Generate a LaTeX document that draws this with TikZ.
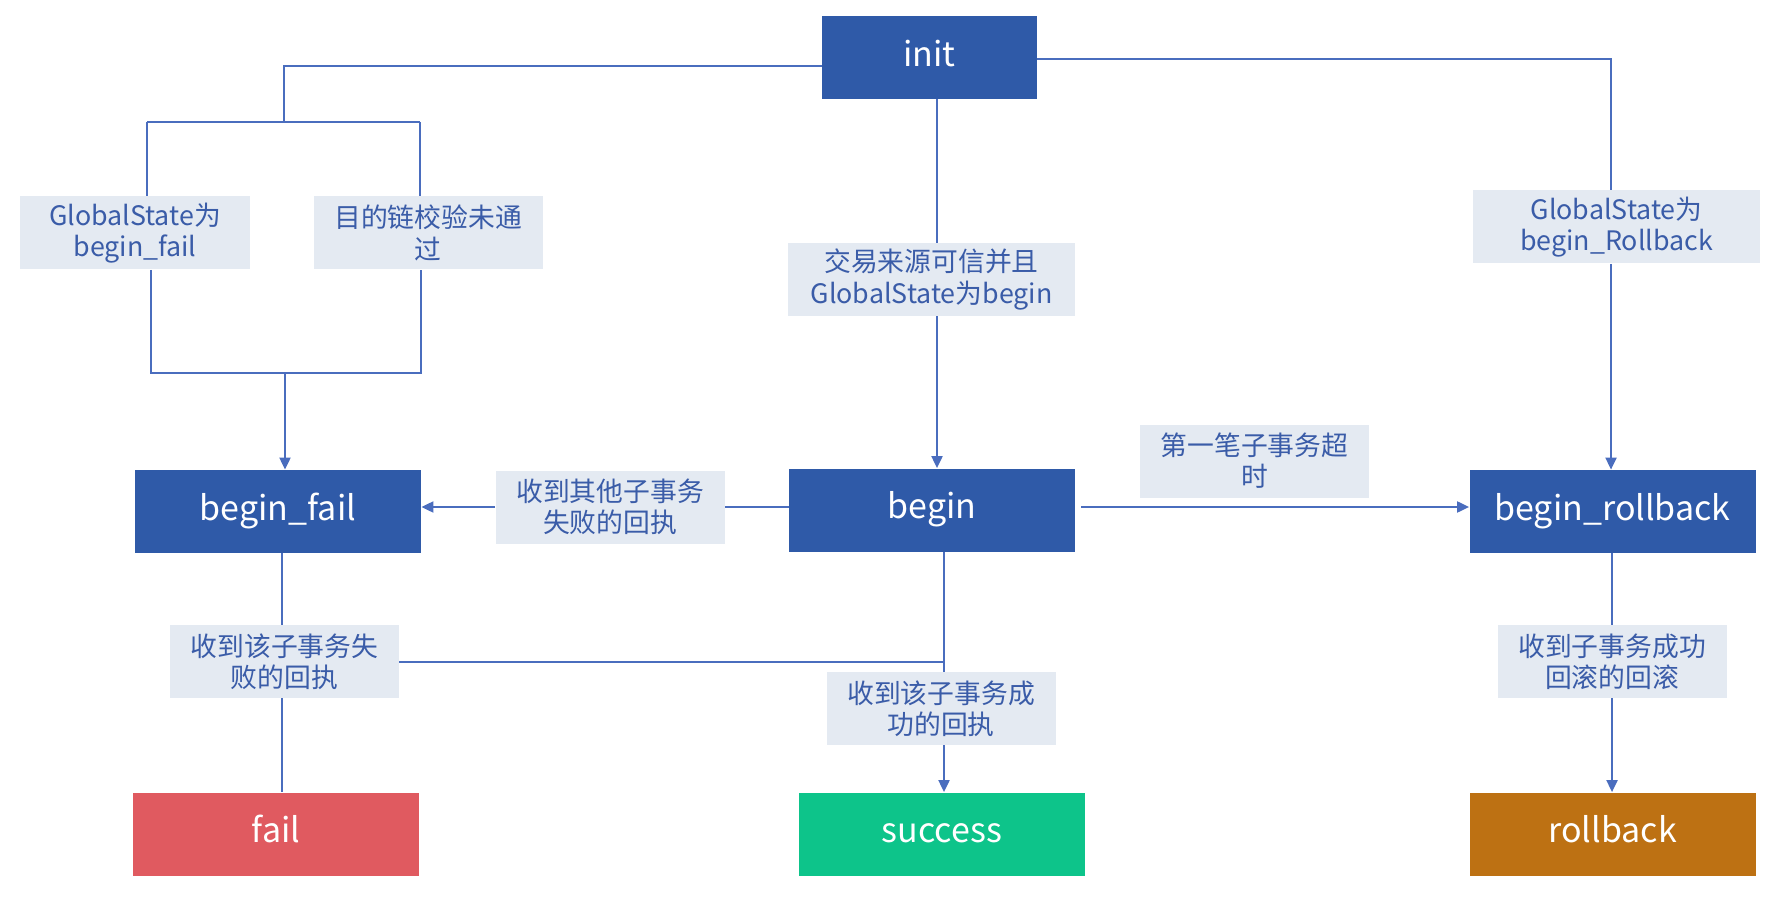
\documentclass[tikz,border=0pt]{standalone}
\usepackage{fontspec}
\newfontfamily\cjk{Noto Sans CJK SC}
\usetikzlibrary{arrows.meta}
\definecolor{boxblue}{HTML}{2F5AA8}
\definecolor{linec}{HTML}{4A6DBE}
\definecolor{lblfill}{HTML}{E4EAF2}
\definecolor{lbltext}{HTML}{3A5CA8}
\definecolor{failred}{HTML}{E05A60}
\definecolor{succgreen}{HTML}{0DC48A}
\definecolor{rbbrown}{HTML}{BD7113}
\begin{document}
\begin{tikzpicture}[x=0.5pt,y=-0.5pt,
 state/.style={fill=boxblue, text=white, font=\cjk\fontsize{17}{20}\selectfont, inner sep=0pt, minimum width=143pt, minimum height=41.5pt, text height=12.6pt, text depth=4pt},
 lbl/.style={fill=lblfill, text=lbltext, font=\cjk\fontsize{13.4}{15.6}\selectfont, align=center, inner sep=0pt, minimum width=114.5pt, minimum height=36.5pt},
 conn/.style={draw=linec, line width=1pt},
 arr/.style={conn, -{Triangle[length=6pt,width=5.5pt]}}]
\useasboundingbox (0,0) rectangle (1791,919);

% states
\node[state, minimum width=107.5pt] (init) at (929.5,57.5) {init};
\node[state] (bfail) at (278,511.5) {begin\_fail};
\node[state] (begin) at (932,510) {begin};
\node[state] (brb) at (1612.5,511.5) {begin\_rollback};
\node[state, fill=failred] (fail) at (276,834) {fail};
\node[state, fill=succgreen] (succ) at (942,834) {success};
\node[state, fill=rbbrown] (rb) at (1612.5,834) {rollback};

% labels
\node[lbl, minimum width=115pt] (L1) at (135,233) {GlobalState为\\begin\_fail};
\node[lbl] (L2) at (428,233) {目的链校验未通\\过};
\node[lbl, minimum width=143.5pt] (L3) at (931.5,279.5) {交易来源可信并且\\GlobalState为begin};
\node[lbl, minimum width=143.5pt] (L4) at (1616.5,227) {GlobalState为\\begin\_Rollback};
\node[lbl] (L5) at (1254.5,461) {第一笔子事务超\\时};
\node[lbl] (L6) at (610,507) {收到其他子事务\\失败的回执};
\node[lbl] (L7) at (284.5,661.5) {收到该子事务失\\败的回执};
\node[lbl] (L8) at (941,708.5) {收到该子事务成\\功的回执};
\node[lbl] (L9) at (1612,661.5) {收到子事务成功\\回滚的回滚};

% junction coordinates
\coordinate (j1) at (284,66);
\coordinate (j2) at (284,122);
\coordinate (a1) at (147,122);
\coordinate (a2) at (420,122);
\coordinate (b1) at (151,373);
\coordinate (b2) at (421,373);
\coordinate (b3) at (285,373);
\coordinate (c1) at (937,0);
\coordinate (r1) at (1611,59);
\coordinate (d1) at (282,0);
\coordinate (e1) at (944,0);
\coordinate (f1) at (1612,0);

% init -> begin_fail branch
\draw[conn] (init.west |- j1) -- (j1) -- (j2);
\draw[conn] (a1) -- (a2);
\draw[conn] (a1) -- (a1 |- L1.north);
\draw[conn] (a2) -- (a2 |- L2.north);
\draw[conn] (b1 |- L1.south) -- (b1) -- (b2) -- (b2 |- L2.south);
\draw[arr] (b3) -- (b3 |- bfail.north);

% init -> begin
\draw[conn] (init.south -| c1) -- (c1 |- L3.north);
\draw[arr] (c1 |- L3.south) -- (c1 |- begin.north);

% init -> begin_rollback
\draw[conn] (init.east |- r1) -- (r1) -- (r1 |- L4.north);
\draw[arr] (r1 |- L4.south) -- (r1 |- brb.north);

% begin -> begin_fail
\draw[conn] (begin.west |- L6.east) -- (L6.east);
\draw[arr] (L6.west) -- (bfail.east |- L6.west);

% begin -> begin_rollback
\draw[arr, shorten <=3pt] (begin.east |- L6.east) -- (brb.west |- L6.east);

% begin_fail -> fail
\draw[conn] (bfail.south -| d1) -- (L7.north -| d1);
\draw[conn] (L7.south -| d1) -- (fail.north -| d1);
\draw[conn] (L7.east) -- (e1 |- L7.east);

% begin -> success
\draw[conn] (begin.south -| e1) -- (L8.north -| e1);
\draw[arr] (L8.south -| e1) -- (succ.north -| e1);

% begin_rollback -> rollback
\draw[conn] (brb.south -| f1) -- (L9.north -| f1);
\draw[arr] (L9.south -| f1) -- (rb.north -| f1);
\end{tikzpicture}
\end{document}
